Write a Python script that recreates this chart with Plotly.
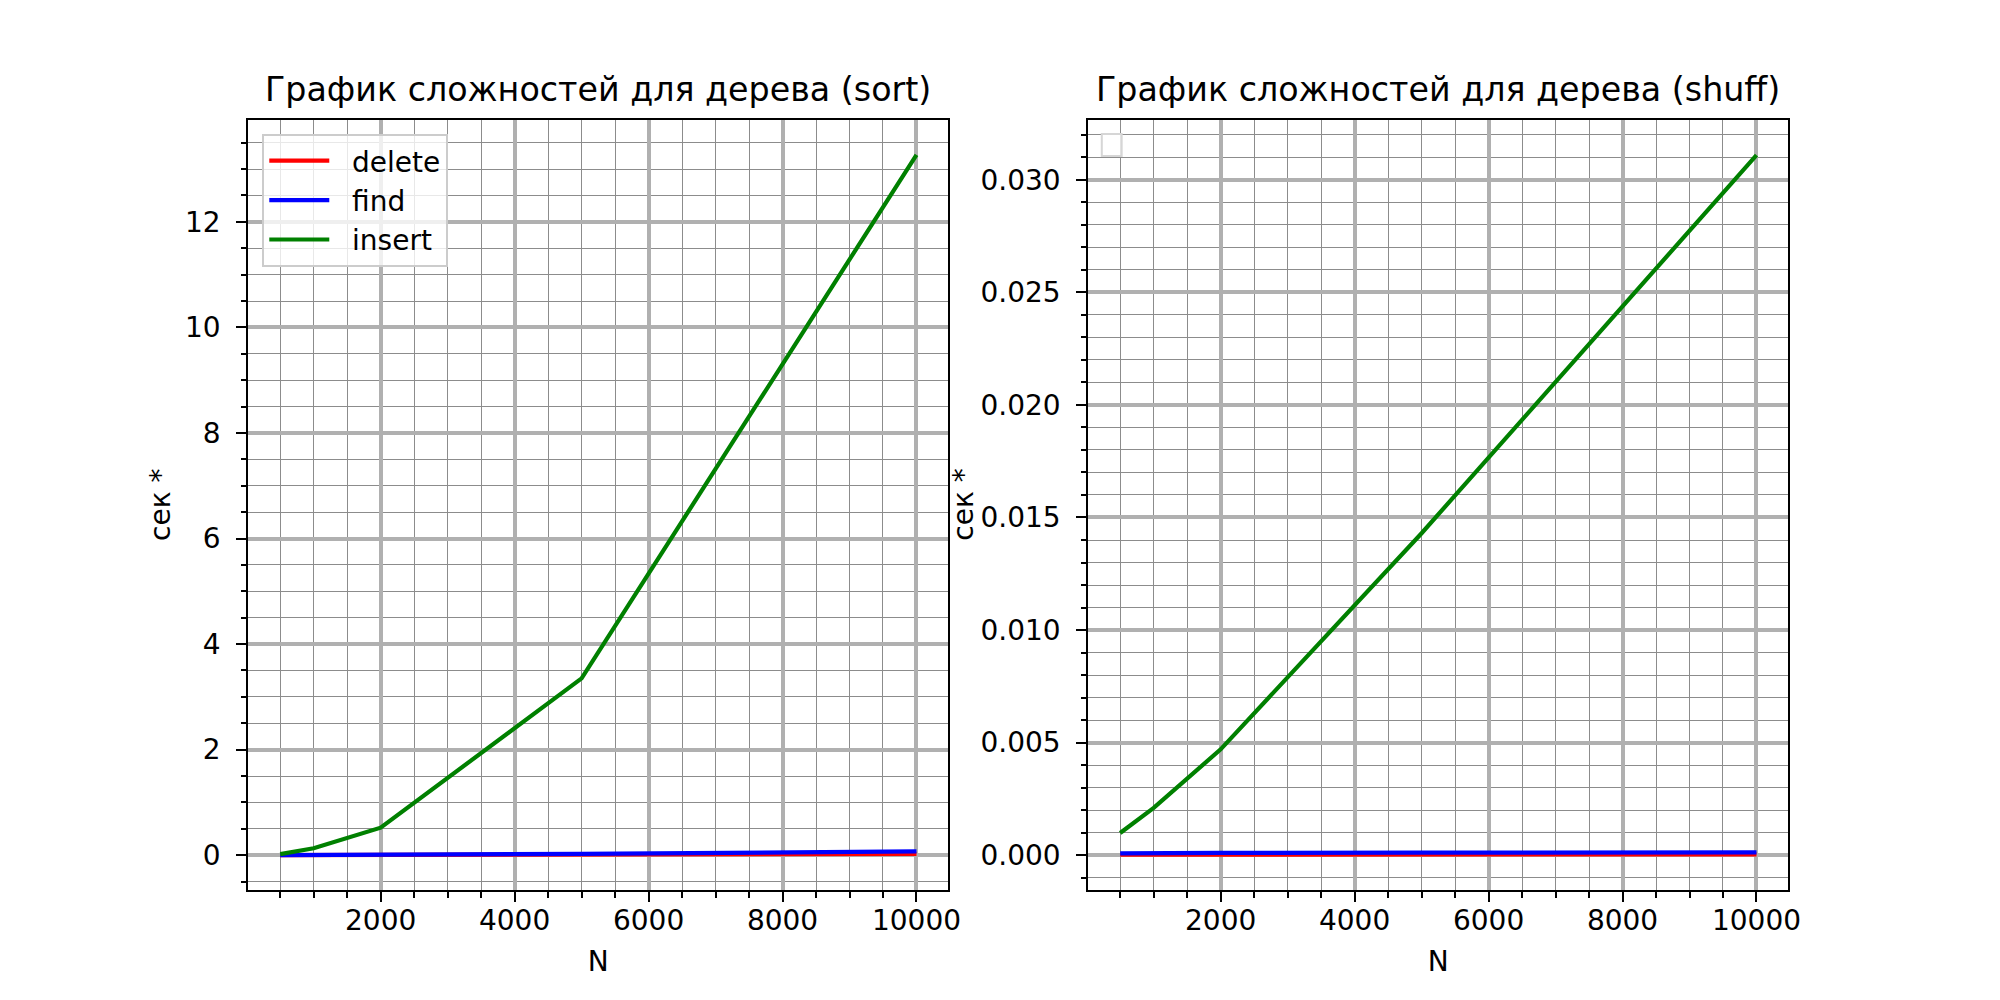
import plotly.graph_objects as go

# Data (N = number of elements, seconds)
n_values = [500, 1000, 2000, 5000, 10000]

sort_delete = [0.0003, 0.001, 0.003, 0.01, 0.025]
sort_find = [0.0005, 0.002, 0.006, 0.025, 0.07]
sort_insert = [0.02, 0.13, 0.52, 3.35, 13.27]

shuff_delete = [0.00002, 0.00002, 0.00002, 0.00003, 0.00003]
shuff_find = [0.00008, 0.00009, 0.0001, 0.00011, 0.00012]
shuff_insert = [0.00098, 0.0021, 0.0047, 0.0143, 0.0311]

series_names = ["delete", "find", "insert"]
series_colors = ["#ff0000", "#0000ff", "#008000"]

FONT = "DejaVu Sans"
LW = 4.2

fig = go.Figure()

for name, color, ys in zip(series_names, series_colors,
                           [sort_delete, sort_find, sort_insert]):
    # non-breaking spaces widen the gap between handle and label like matplotlib
    fig.add_trace(go.Scatter(x=n_values, y=ys, mode="lines",
                             name="\u00a0\u00a0" + name,
                             line=dict(color=color, width=LW),
                             xaxis="x", yaxis="y"))

for name, color, ys in zip(series_names, series_colors,
                           [shuff_delete, shuff_find, shuff_insert]):
    fig.add_trace(go.Scatter(x=n_values, y=ys, mode="lines", name=name,
                             line=dict(color=color, width=LW),
                             showlegend=False, xaxis="x2", yaxis="y2"))

axis_common = dict(
    showline=True, mirror=True, linecolor="black", linewidth=2.2,
    ticks="outside", ticklen=10, tickwidth=2.2, tickcolor="black",
    showgrid=True, gridcolor="#b0b0b0", gridwidth=3.5,
    zeroline=False,
    tickfont=dict(family=FONT, size=28, color="black"),
)

def minor(dtick):
    return dict(dtick=dtick, ticks="outside", ticklen=5.6, tickwidth=1.7,
                tickcolor="black", showgrid=True, gridcolor="#8c8c8c",
                gridwidth=1.3)

x_common = dict(axis_common, range=[25, 10475], dtick=2000, tick0=0,
                tickformat="d", ticklabelstandoff=-6,
                minor=dict(minor(500), tick0=0),
                title=dict(text="N", font=dict(family=FONT, size=28, color="black"),
                           standoff=16))

fig.update_layout(
    width=2000, height=1000, autosize=False,
    margin=dict(l=0, r=0, t=0, b=0),
    paper_bgcolor="white", plot_bgcolor="white",
    font=dict(family=FONT, size=28, color="black"),
    xaxis=dict(x_common, domain=[0.125, 0.47725], anchor="y"),
    xaxis2=dict(x_common, domain=[0.54775, 0.9], anchor="y2"),
    yaxis=dict(axis_common, domain=[0.11, 0.88], anchor="x",
               range=[-0.66, 13.93], dtick=2, tick0=0,
               ticklabelstandoff=10,
               minor=dict(minor(0.5), tick0=0)),
    yaxis2=dict(axis_common, domain=[0.11, 0.88], anchor="x2",
                range=[-0.00155, 0.03266], dtick=0.005, tick0=0,
                tickformat=".3f", ticklabelstandoff=10,
                minor=dict(minor(0.001), tick0=0)),
    legend=dict(x=0.132, y=0.866, xanchor="left", yanchor="top",
                bgcolor="rgba(255,255,255,0.8)", bordercolor="#cccccc",
                borderwidth=2, font=dict(family=FONT, size=28, color="black"),
                itemwidth=60, tracegroupgap=0),
    showlegend=True,
)

# subplot titles
titles = ["График сложностей для дерева (sort)", "График сложностей для дерева (shuff)"]
centers = [(0.125 + 0.47725) / 2, (0.54775 + 0.9) / 2]
for t, cx in zip(titles, centers):
    fig.add_annotation(text=t, x=cx, y=0.88, xref="paper", yref="paper",
                       xanchor="center", yanchor="bottom", yshift=9,
                       showarrow=False,
                       font=dict(family=FONT, size=33.3, color="black"))

# y axis labels
for xpos in [0.0805, 0.4845]:
    fig.add_annotation(text="сек *", x=xpos, y=0.495, xref="paper", yref="paper",
                       xanchor="center", yanchor="middle", textangle=-90,
                       showarrow=False,
                       font=dict(family=FONT, size=28, color="black"))

# empty legend frame on the right subplot
fig.add_shape(type="rect", xref="paper", yref="paper",
              x0=0.5545, x1=0.5645, y0=0.844, y1=0.866,
              line=dict(color="#d6d6d6", width=2),
              fillcolor="rgba(255,255,255,0.8)")

fig.write_html("out.html", config={"displayModeBar": False},
               post_script="document.body.style.margin='0';")
